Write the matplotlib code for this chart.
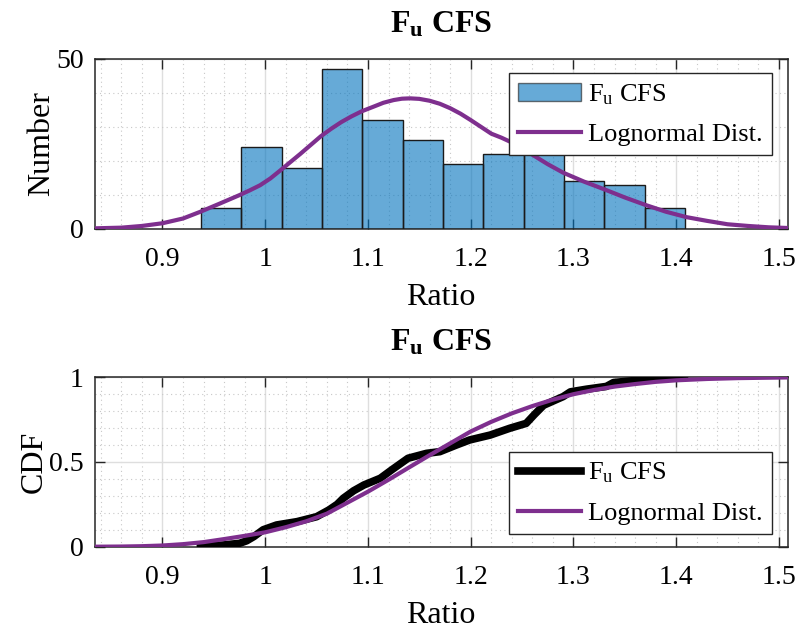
import matplotlib
matplotlib.use("Agg")
import matplotlib.pyplot as plt
from matplotlib.ticker import MultipleLocator, FormatStrFormatter

plt.rcParams['font.family'] = ['Liberation Serif', 'DejaVu Serif']
plt.rcParams['mathtext.fontset'] = 'custom'
plt.rcParams['mathtext.rm'] = 'Liberation Serif'
plt.rcParams['mathtext.it'] = 'Liberation Serif:italic'
plt.rcParams['mathtext.bf'] = 'Liberation Serif:bold'

# histogram of the ratio (bin edges and counts)
bin_edges = [0.9375, 0.9768, 1.0160, 1.0553, 1.0945, 1.1338, 1.1730,
             1.2123, 1.2515, 1.2908, 1.3300, 1.3693, 1.4085]
counts = [6, 24, 18, 47, 32, 26, 19, 22, 22, 14, 13, 6]

# fitted lognormal density, scaled to counts
pdf_x = [0.834, 0.86, 0.88, 0.90, 0.92, 0.937, 0.955, 0.975, 0.985, 0.995,
         1.005, 1.014, 1.024, 1.034, 1.044, 1.054, 1.064, 1.074, 1.084,
         1.094, 1.105, 1.115, 1.125, 1.133, 1.141, 1.15, 1.16, 1.17, 1.18,
         1.19, 1.20, 1.21, 1.22, 1.23, 1.24, 1.25, 1.26, 1.275, 1.29, 1.31,
         1.33, 1.35, 1.37, 1.39, 1.41, 1.43, 1.45, 1.47, 1.49, 1.5085]
pdf_y = [0.1, 0.3, 0.8, 1.6, 3.0, 5.0, 7.3, 9.9, 11.3, 12.8,
         14.8, 17.0, 19.5, 22.0, 24.6, 27.2, 29.4, 31.4, 33.1,
         34.6, 35.9, 37.1, 37.9, 38.3, 38.4, 38.25, 37.7, 36.8, 35.5,
         33.9, 32.0, 30.0, 28.0, 26.8, 25.4, 23.6, 21.8, 19.0, 16.5, 13.9,
         11.6, 9.2, 7.0, 5.0, 3.4, 2.3, 1.3, 0.8, 0.4, 0.2]

# empirical CDF
ecdf_x = [0.937, 0.959, 0.975, 0.982, 0.989, 0.998, 1.011, 1.031, 1.050,
          1.062, 1.070, 1.076, 1.086, 1.096, 1.112, 1.123, 1.139, 1.157,
          1.170, 1.186, 1.199, 1.219, 1.238, 1.254, 1.262, 1.271, 1.290,
          1.297, 1.313, 1.332, 1.339, 1.365, 1.397, 1.408]
ecdf_y = [0.000, 0.010, 0.020, 0.035, 0.060, 0.100, 0.128, 0.148, 0.177,
          0.217, 0.250, 0.286, 0.330, 0.364, 0.404, 0.453, 0.522, 0.551,
          0.561, 0.600, 0.630, 0.659, 0.699, 0.728, 0.780, 0.835, 0.886,
          0.914, 0.930, 0.946, 0.969, 0.984, 0.998, 1.000]

# fitted lognormal CDF
cdf_x = [0.834, 0.86, 0.88, 0.90, 0.92, 0.94, 0.96, 0.98, 1.00, 1.02,
         1.04, 1.06, 1.08, 1.10, 1.12, 1.14, 1.16, 1.18, 1.20, 1.22,
         1.24, 1.26, 1.28, 1.30, 1.32, 1.34, 1.36, 1.38, 1.40, 1.43,
         1.46, 1.5085]
cdf_y = [0.0, 0.001, 0.003, 0.007, 0.015, 0.027, 0.045, 0.064, 0.085, 0.115,
         0.15, 0.195, 0.26, 0.325, 0.395, 0.468, 0.54, 0.61, 0.68, 0.737,
         0.787, 0.83, 0.868, 0.90, 0.925, 0.945, 0.96, 0.973, 0.982, 0.99,
         0.995, 0.999]

x_ticks = [0.9, 1.0, 1.1, 1.2, 1.3, 1.4, 1.5]
title = r'$\mathbf{F_u}$ CFS'
data_label = r'F$_\mathrm{u}$ CFS'
fit_label = 'Lognormal Dist.'

blue = '#0072BD'
purple = '#7E2F8E'
axc = '#262626'


def style_axes(ax, ymajor, yminor):
    ax.set_xlim(0.834, 1.5085)
    ax.set_xticks(x_ticks)
    ax.xaxis.set_major_formatter(FormatStrFormatter('%g'))
    ax.xaxis.set_minor_locator(MultipleLocator(0.02))
    ax.yaxis.set_major_locator(MultipleLocator(ymajor))
    ax.yaxis.set_minor_locator(MultipleLocator(yminor))
    ax.yaxis.set_major_formatter(FormatStrFormatter('%g'))
    ax.tick_params(which='major', direction='in', length=7, width=1,
                   top=True, right=True, labelsize=20, color=axc)
    ax.tick_params(axis='x', pad=13)
    ax.tick_params(axis='y', pad=8)
    ax.tick_params(which='minor', length=0)
    ax.grid(which='major', color='#dedede', linewidth=1)
    ax.grid(which='minor', color='#c8c8c8', linestyle=(0, (1, 3)), linewidth=0.8)
    ax.set_axisbelow(True)
    for s in ax.spines.values():
        s.set_color(axc)
        s.set_linewidth(1.1)
    ax.set_title(title, fontsize=23, fontweight='bold', pad=19)
    ax.set_xlabel('Ratio', fontsize=23, labelpad=8)


def make_legend(ax, handles, labels, loc, anchor):
    leg = ax.legend(handles, labels, loc=loc, bbox_to_anchor=anchor,
                    borderaxespad=0, fontsize=19, handlelength=2.4,
                    handletextpad=0.25, borderpad=0.35, labelspacing=0.6,
                    fancybox=False, framealpha=1, edgecolor=axc)
    leg.get_frame().set_linewidth(1)
    return leg


fig = plt.figure(figsize=(7.99, 6.31), dpi=100)
ax1 = fig.add_axes([0.1185, 0.6376, 0.8673, 0.2689])
ax2 = fig.add_axes([0.1185, 0.1336, 0.8673, 0.2685])

widths = [bin_edges[i + 1] - bin_edges[i] for i in range(len(counts))]
bars = ax1.bar(bin_edges[:-1], counts, width=widths, align='edge', color=blue,
               alpha=0.6, edgecolor='none', zorder=2)
ax1.bar(bin_edges[:-1], counts, width=widths, align='edge', fill=False,
        edgecolor='#1a1a1a', linewidth=1, zorder=3)
fit1, = ax1.plot(pdf_x, pdf_y, color=purple, linewidth=3, zorder=4)
ax1.set_ylim(0, 50)
style_axes(ax1, 50, 10)
ax1.set_ylabel('Number', fontsize=23, labelpad=0)
leg1 = make_legend(ax1, [bars, fit1], [data_label, fit_label],
                   'upper right', (0.977, 0.919))
leg1.legend_handles[0].set_edgecolor('#1a1a1a')
leg1.legend_handles[0].set_linewidth(1)

emp2, = ax2.plot(ecdf_x, ecdf_y, color='black', linewidth=5.5, zorder=3)
fit2, = ax2.plot(cdf_x, cdf_y, color=purple, linewidth=3, zorder=4)
ax2.set_ylim(0, 1)
style_axes(ax2, 0.5, 0.1)
ax2.set_ylabel('CDF', fontsize=23, labelpad=0)
make_legend(ax2, [emp2, fit2], [data_label, fit_label],
            'lower right', (0.977, 0.075))

fig.savefig('out.png', dpi=100)
